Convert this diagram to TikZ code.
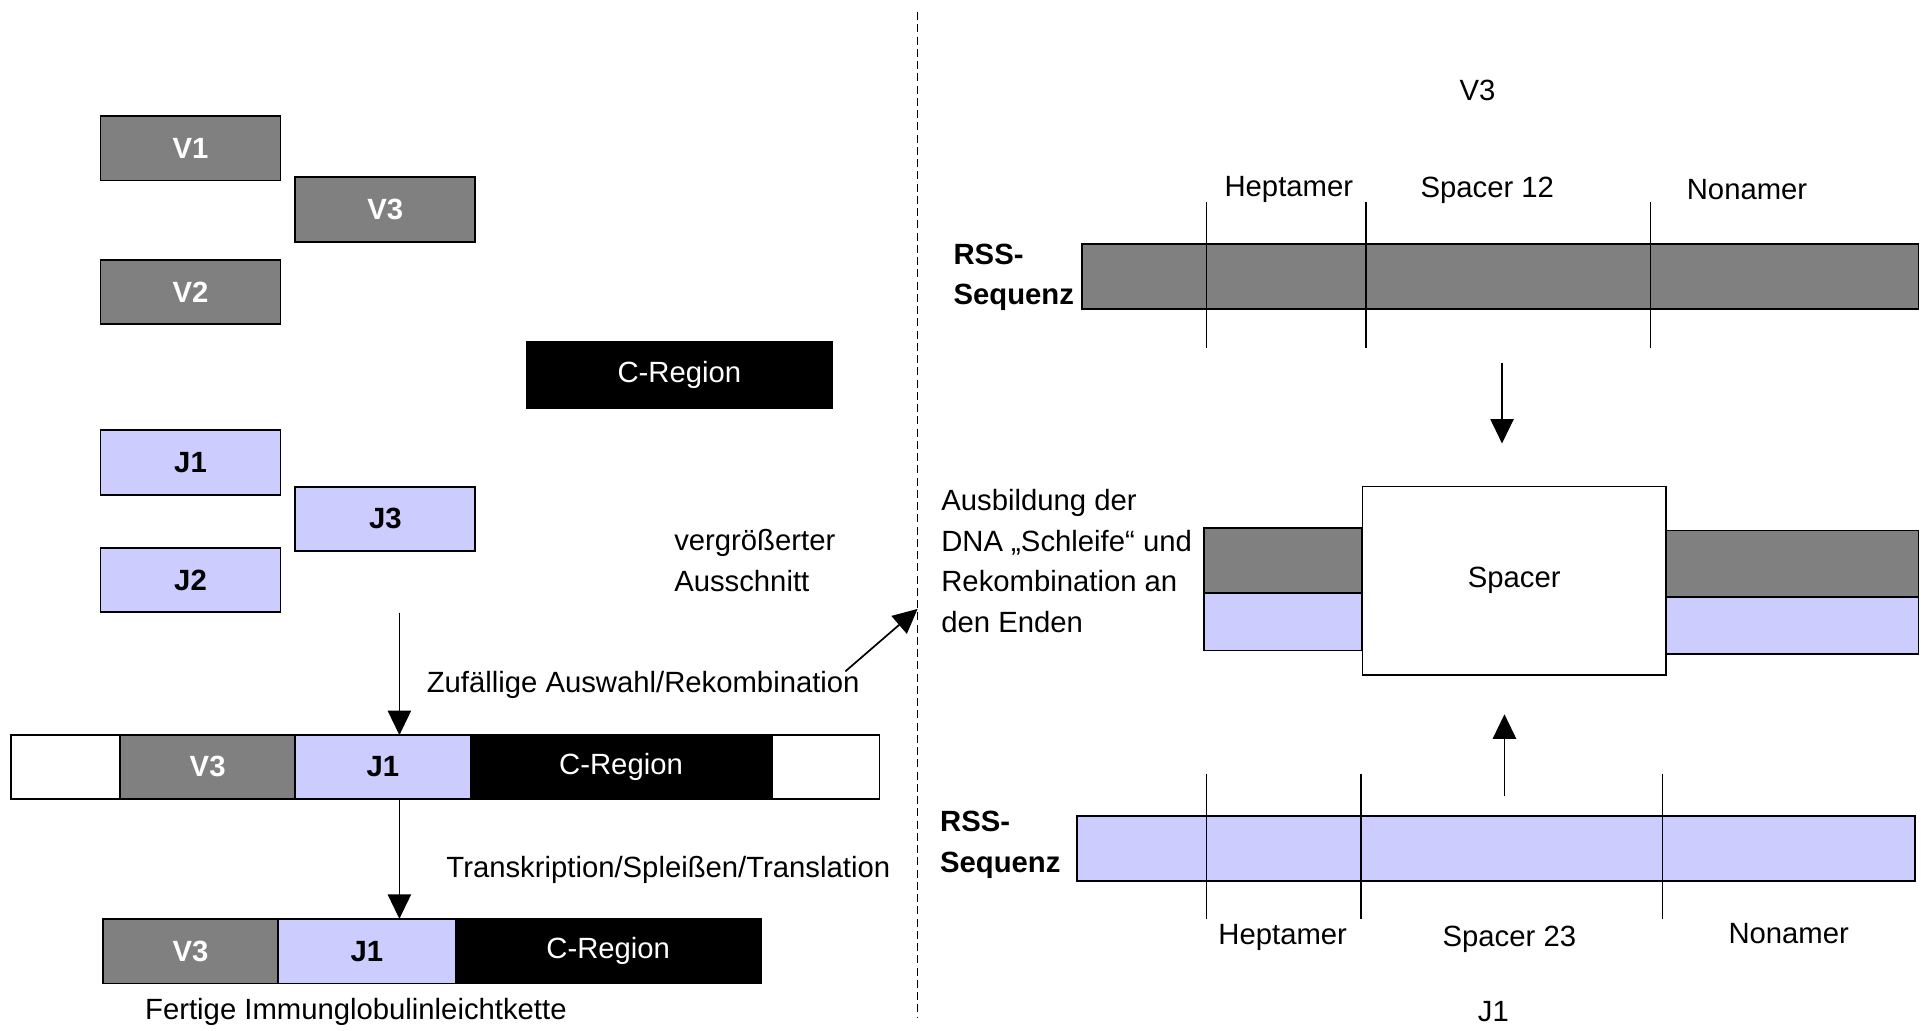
\documentclass[tikz,border=0pt]{standalone}
\usepackage{fontspec}
\setmainfont{Liberation Sans}
\usepackage{tikz}
\usetikzlibrary{arrows.meta, positioning}
\definecolor{vgray}{HTML}{808080}
\definecolor{jblue}{HTML}{CCCCFF}

\begin{document}
\fontsize{13.6}{18.8}\selectfont
\begin{tikzpicture}[x=0.02cm, y=-0.02cm]
      \tikzset{blk/.style = {draw, line width=0.8pt, inner sep=0pt, outer sep=0pt, minimum height=1.05cm, font=\bfseries}}
      \tikzset{vgene/.style = {blk, fill=vgray, text=white}}
      \tikzset{jgene/.style = {blk, fill=jblue}}
      \tikzset{cgene/.style = {blk, fill=black, text=white, font=\normalfont}}
      \tikzset{empty/.style = {blk, fill=white, font=\normalfont}}
      \tikzset{lbl/.style = {inner sep=0pt, align=left}}
      \tikzset{tick/.style = {line width=0.6pt}}
      \tikzset{arr/.style = {line width=0.8pt, -{Triangle[length=0.4cm, width=0.38cm]}}}
      \useasboundingbox (0,0) rectangle (1568,841);

      % gene segments
      \node[vgene, minimum width=2.94cm] (v1) at (155.5,121) {V1};
      \node[vgene, minimum width=2.94cm] (v3) at (314.5,171) {V3};
      \node[vgene, minimum width=2.94cm] (v2) at (155.5,238.5) {V2};
      \node[cgene, minimum width=4.98cm, minimum height=1.08cm] (c) at (554.5,306) {C-Region};
      \node[jgene, minimum width=2.94cm] (j1) at (155.5,377.5) {J1};
      \node[jgene, minimum width=2.94cm] (j3) at (314.5,423.5) {J3};
      \node[jgene, minimum width=2.94cm] (j2) at (155.5,473.5) {J2};

      % rearranged DNA
      \node[empty, minimum width=1.78cm] (dnaa) at (53.5,626) {};
      \node[vgene, minimum width=2.86cm, right=0pt of dnaa] (dnav) {V3};
      \node[jgene, minimum width=2.86cm, right=0pt of dnav] (dnaj) {J1};
      \node[cgene, minimum width=4.92cm, right=0pt of dnaj] (dnac) {C-Region};
      \node[empty, minimum width=1.76cm, right=0pt of dnac] (dnab) {};

      % light chain
      \node[vgene, minimum width=2.86cm] (ketv) at (155.5,776.5) {V3};
      \node[jgene, minimum width=2.90cm, right=0pt of ketv] (ketj) {J1};
      \node[cgene, minimum width=4.98cm, right=0pt of ketj] (ketc) {C-Region};

      \coordinate (s1) at (326,500);
      \coordinate (e1) at (326,600);
      \coordinate (s2) at (326,652);
      \coordinate (e2) at (326,750);
      \draw[arr] (s1) -- (e1);
      \draw[arr] (s2) -- (e2);
      \node[lbl] (rek) at (525,559) {Zufällige Auswahl/Rekombination};
      \node[lbl] (trans) at (545.5,710) {Transkription/Spleißen/Translation};
      \node[lbl] (fertig) at (290.5,826) {Fertige Immunglobulinleichtkette};
      \node[lbl, anchor=west] (aus) at (550,457.5) {vergrößerter\\Ausschnitt};

      % zoom
      \coordinate (top) at (749,10);
      \coordinate (bot) at (749,830);
      \draw[line width=0.8pt, dash pattern=on 0.13cm off 0.07cm] (top) -- (bot);
      \coordinate (zs) at (690,548);
      \coordinate (ze) at (749,497);
      \draw[arr] (zs) -- (ze);

      % RSS of V3
      \node[lbl] (tv3) at (1206,74) {V3};
      \node[vgene, minimum width=13.66cm, minimum height=1.06cm] (rss12) at (1224.5,225.5) {};
      \foreach \x in {985,1115,1347}
        \draw[tick] (\x,165) -- (\x,284);
      \node[lbl] (hep1) at (1052,155) {Heptamer};
      \node[lbl] (sp12) at (1214,155) {Spacer 12};
      \node[lbl] (non1) at (1426,155) {Nonamer};
      \node[lbl, anchor=west, font=\bfseries] (rss1) at (778,226.5) {RSS-\\Sequenz};

      % loop
      \node[vgene, minimum width=2.58cm, minimum height=1.06cm] (lv) at (1047.5,457.5) {};
      \node[jgene, minimum width=2.58cm, minimum height=0.94cm] (lj) at (1047.5,507.5) {};
      \node[vgene, minimum width=4.12cm, minimum height=1.08cm] (rv) at (1463,460) {};
      \node[jgene, minimum width=4.12cm, minimum height=0.94cm] (rj) at (1463,510.5) {};
      \node[empty, minimum width=4.96cm, minimum height=3.08cm] (spc) at (1236,474) {Spacer};
      \node[lbl, anchor=west] (bild) at (768,458) {Ausbildung der\\DNA „Schleife“ und\\Rekombination an\\den Enden};
      \coordinate (d1) at (1226,296);
      \coordinate (d2) at (1226,362);
      \coordinate (u1) at (1228,650);
      \coordinate (u2) at (1228,583);
      \draw[arr] (d1) -- (d2);
      \draw[arr] (u1) -- (u2);

      % RSS of J1
      \node[jgene, minimum width=13.68cm, minimum height=1.06cm] (rss23) at (1221,692.5) {};
      \foreach \x in {985,1111,1357}
        \draw[tick] (\x,632) -- (\x,750);
      \node[lbl] (hep2) at (1047,765) {Heptamer};
      \node[lbl] (sp23) at (1232,767) {Spacer 23};
      \node[lbl] (non2) at (1460,762) {Nonamer};
      \node[lbl, anchor=west, font=\bfseries] (rss2) at (767,689.5) {RSS-\\Sequenz};
      \node[lbl] (tj1) at (1219,826) {J1};
    \end{tikzpicture}
\end{document}
